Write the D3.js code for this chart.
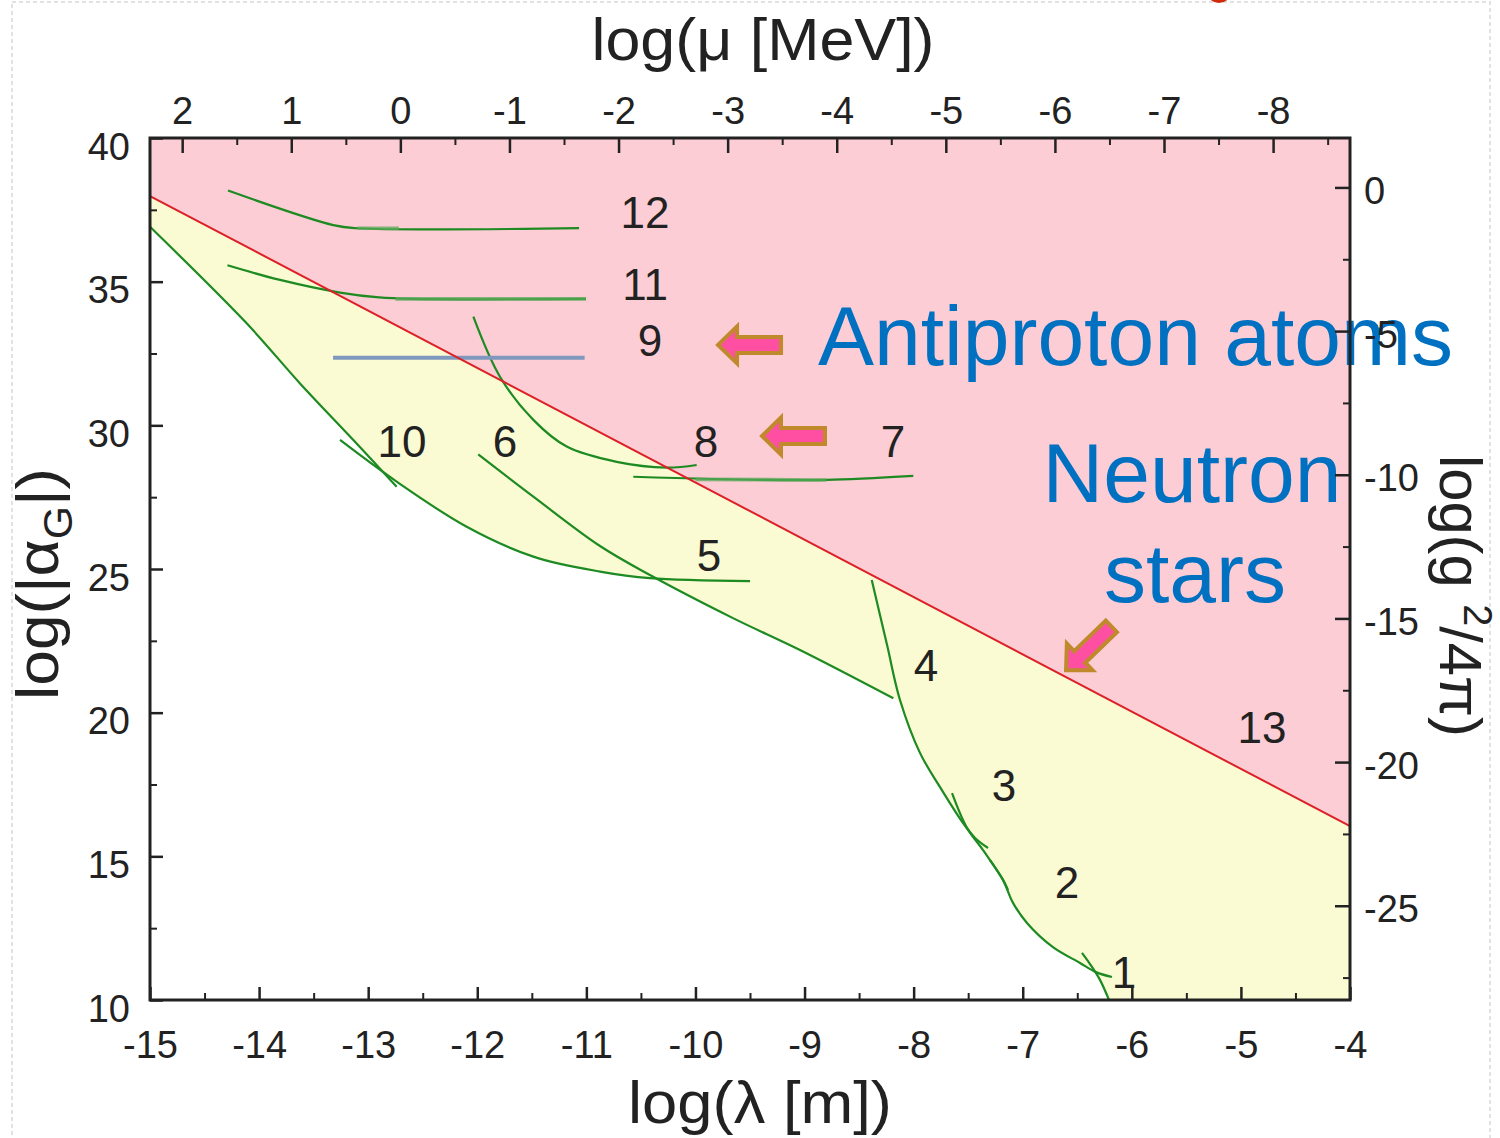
<!DOCTYPE html>
<html>
<head>
<meta charset="utf-8">
<script src="https://cdn.jsdelivr.net/npm/d3@7"></script>
<style>
  html, body { margin: 0; padding: 0; background: #fff; }
  svg { display: block; }
</style>
</head>
<body>
<svg id="chart" width="1500" height="1138"></svg>
<script>
// ---------------- tick values ----------------
const lambdaTicks = [-15, -14, -13, -12, -11, -10, -9, -8, -7, -6, -5, -4];
const alphaTicks  = [10, 15, 20, 25, 30, 35, 40];
const muTicks     = [2, 1, 0, -1, -2, -3, -4, -5, -6, -7, -8];
const couplingTicks = [0, -5, -10, -15, -20, -25];

// log10(hbar*c in MeV*m): lambda = LOG_HBARC - log(mu)
const LOG_HBARC = -12.705;
// log(alpha_G) = log(g^2/4pi) + ALPHA_SHIFT
const ALPHA_SHIFT = 38.28;

// ---------------- limits [log(lambda), log(alpha_G)] ----------------
const neutronStarLimit = [[-15, 37.98], [-4, 16.05]];

const excludedEdge = [
  [-15, 36.91], [-14.114, 33.55], [-13.625, 31.46], [-13.136, 29.49], [-12.84, 28.28],
  [-12.739, 28.04], [-12.097, 26.47], [-11.486, 25.43], [-10.875, 24.91], [-10.36, 24.67],
  [-9.656, 23.29], [-9.042, 22.18], [-8.15, 20.46], [-7.942, 18.60], [-7.758, 17.41],
  [-7.547, 16.16], [-7.364, 15.22], [-7.181, 14.18], [-7.089, 13.38], [-6.961, 12.68],
  [-6.723, 11.84], [-6.475, 11.29], [-6.383, 11.15], [-6.292, 10.70], [-6.209, 10.0]
];

const curve1  = [[-6.457, 11.64], [-6.383, 11.25], [-6.292, 10.70], [-6.209, 10.0]];
const curve2  = [[-7.300, 14.87], [-7.181, 14.18], [-7.089, 13.38], [-6.961, 12.68], [-6.723, 11.84],
                 [-6.475, 11.29], [-6.328, 10.97], [-6.182, 10.80]];
const curve3  = [[-7.648, 17.20], [-7.511, 15.99], [-7.364, 15.22], [-7.181, 14.18], [-7.135, 13.83]];
const curve4  = [[-8.384, 24.62], [-8.244, 22.36], [-8.125, 20.44], [-7.942, 18.60], [-7.758, 17.41],
                 [-7.547, 16.16], [-7.437, 15.64], [-7.318, 15.29]];
const curve5  = [[-13.258, 29.49], [-12.739, 28.04], [-12.097, 26.47], [-11.486, 25.43],
                 [-10.875, 24.91], [-10.417, 24.68], [-9.5, 24.58]];
const curve6  = [[-11.991, 28.99], [-11.486, 27.52], [-10.875, 25.80], [-10.417, 24.79],
                 [-9.656, 23.29], [-9.042, 22.18], [-8.186, 20.50]];
const curve7  = [[-10.57, 28.21], [-9.40, 28.10], [-8.797, 28.10], [-8.003, 28.24]];
const curve8  = [[-12.036, 33.78], [-11.792, 31.69], [-11.486, 30.19], [-11.18, 29.26],
                 [-10.722, 28.73], [-10.264, 28.53], [-9.989, 28.62]];
const curve9  = [[-13.322, 32.35], [-11.016, 32.35]];
const curve10 = [[-15, 36.91], [-14.114, 33.55], [-13.625, 31.46], [-13.136, 29.49], [-12.739, 27.86]];
const curve11 = [[-14.29, 35.57], [-13.808, 35.06], [-13.258, 34.62], [-12.90, 34.45],
                 [-12.598, 34.40], [-11.003, 34.40]];
const curve12 = [[-14.285, 38.17], [-13.32, 36.97], [-13.10, 36.86], [-11.067, 36.86]];

// lighter, wider stretches laid over some of the limits
const curve7Wide  = [[-10.0, 28.12], [-8.8, 28.10]];
const curve11Wide = [[-12.75, 34.40], [-11.003, 34.40]];
const curve12Wide = [[-13.10, 36.86], [-12.72, 36.86]];

// curve numbers: [text, log(lambda), log(alpha_G)] (centre of the number)
const curveNumbers = [
  ["12", -10.462, 37.42], ["11", -10.462, 34.92], ["9", -10.417, 32.97],
  ["10", -12.690, 29.45], ["6", -11.746, 29.45], ["8", -9.903, 29.45], ["7", -8.189, 29.45],
  ["5", -9.876, 25.49], ["4", -7.887, 21.66], ["3", -7.172, 17.48], ["2", -6.594, 14.11],
  ["1", -6.072, 10.97], ["13", -4.807, 19.50]
];

// callouts: [text, log(lambda), log(alpha_G), anchor]
const callouts = [
  ["Antiproton atoms", -8.877, 32.10, "start"],
  ["Neutron", -5.448, 27.33, "middle"],
  ["stars", -5.421, 23.86, "middle"]
];

// arrow tips [log(lambda), log(alpha_G), direction of tail in degrees]
const arrowTips = [
  [-9.793, 32.80, 0],
  [-9.390, 29.63, 0],
  [-6.603, 21.48, -44]
];

// ---------------- drawing ----------------
const svg = d3.select("#chart");
const SANS = "'Liberation Sans', Arial, Helvetica, sans-serif";
const NARROW = "'Liberation Sans Narrow', 'Arial Narrow', 'Liberation Sans', Arial, sans-serif";
const INK = "#222";

const x = d3.scaleLinear().domain([-15, -4]).range([150, 1350]);
const y = d3.scaleLinear().domain([10, 40]).range([1000, 138]);
const xMu = d3.scaleLinear().domain([LOG_HBARC + 15, LOG_HBARC + 4]).range([150, 1350]);
const yG = d3.scaleLinear().domain([10 - ALPHA_SHIFT, 40 - ALPHA_SHIFT]).range([1000, 138]);

// faint page frame and the corner dot
svg.append("rect").attr("x", 12).attr("y", 2).attr("width", 1478).attr("height", 1150)
  .attr("fill", "none").attr("stroke", "#e2e2e2").attr("stroke-width", 2).attr("stroke-dasharray", "4,3");
svg.append("circle").attr("cx", 1219).attr("cy", -10).attr("r", 13).attr("fill", "#d02a0c");

svg.append("clipPath").attr("id", "plot-clip").append("rect")
  .attr("x", x(-15)).attr("y", y(40)).attr("width", x(-4) - x(-15)).attr("height", y(10) - y(40));

const plot = svg.append("g").attr("clip-path", "url(#plot-clip)");

const area = d3.line().x(d => x(d[0])).y(d => y(d[1]));
const smooth = d3.line().x(d => x(d[0])).y(d => y(d[1])).curve(d3.curveCatmullRom.alpha(0.5));

// excluded by neutron stars (above the red limit)
const nsFirst = neutronStarLimit[0], nsLast = neutronStarLimit[neutronStarLimit.length - 1];
plot.append("path")
  .attr("d", area([[nsFirst[0], 40], [nsLast[0], 40], ...neutronStarLimit.slice().reverse()]) + "Z")
  .attr("fill", "#fdcdd6");

// excluded by the experiments, below the neutron-star limit
plot.append("path")
  .attr("d", area([...neutronStarLimit, [nsLast[0], 10], ...excludedEdge.slice().reverse()]) + "Z")
  .attr("fill", "#fafad3");

// experimental limits
const greenCurves = [curve1, curve2, curve3, curve4, curve5, curve6, curve7, curve8, curve10, curve11, curve12];
plot.selectAll("path.limit").data(greenCurves).join("path")
  .attr("class", "limit").attr("d", smooth)
  .attr("fill", "none").attr("stroke", "#1d8a22").attr("stroke-width", 2.2);

plot.selectAll("path.wide").data([curve7Wide, curve11Wide, curve12Wide]).join("path")
  .attr("class", "wide").attr("d", smooth)
  .attr("fill", "none").attr("stroke", "#5aa85a").attr("stroke-opacity", 0.75).attr("stroke-width", 3.6);

plot.append("path").attr("d", smooth(curve9))
  .attr("fill", "none").attr("stroke", "#7f98bd").attr("stroke-width", 4);

plot.append("path").attr("d", area(neutronStarLimit))
  .attr("fill", "none").attr("stroke", "#dd1f26").attr("stroke-width", 2);

// curve numbers
svg.append("g").selectAll("text").data(curveNumbers).join("text")
  .attr("x", d => x(d[1])).attr("y", d => y(d[2]) + 16)
  .attr("text-anchor", "middle")
  .attr("font-family", SANS).attr("font-size", 44).attr("fill", INK)
  .text(d => d[0]);

// callout texts
svg.append("g").selectAll("text").data(callouts).join("text")
  .attr("x", d => x(d[1])).attr("y", d => y(d[2]))
  .attr("text-anchor", d => d[3])
  .attr("font-family", SANS).attr("font-size", 84).attr("fill", "#0070c0")
  .text(d => d[0]);

// block arrows (tip at origin, tail along +x)
const arrowShape = [[0, 0], [19, -18.5], [19, -8], [63, -8], [63, 8], [19, 8], [19, 18.5]];
svg.append("g").selectAll("path").data(arrowTips).join("path")
  .attr("d", "M" + arrowShape.map(p => p.join(",")).join("L") + "Z")
  .attr("transform", d => `translate(${x(d[0])},${y(d[1])}) rotate(${d[2]})`)
  .attr("fill", "#ff4fa3").attr("stroke", "#c08a2c").attr("stroke-width", 4)
  .attr("stroke-linejoin", "miter");

// ---------------- axes ----------------
function styleAxis(g, size) {
  g.select(".domain").remove();
  g.selectAll(".tick line").attr("stroke", INK).attr("stroke-width", size);
  g.selectAll(".tick text").attr("font-family", NARROW).attr("font-size", 38).attr("fill", INK);
}
const fmt = d => String(d);

svg.append("g").attr("transform", `translate(0,${y(10)})`)
  .call(d3.axisBottom(x).tickValues(lambdaTicks).tickSize(-13).tickFormat(fmt))
  .call(g => styleAxis(g, 2.5))
  .call(g => g.selectAll(".tick text").attr("y", 58).attr("dy", null));
svg.append("g").attr("transform", `translate(0,${y(10)})`)
  .call(d3.axisBottom(x).tickValues(d3.range(-14.5, -4, 1)).tickSize(-7).tickFormat(""))
  .call(g => styleAxis(g, 2));

svg.append("g").attr("transform", `translate(${x(-15)},0)`)
  .call(d3.axisLeft(y).tickValues(alphaTicks).tickSize(-13).tickPadding(20).tickFormat(fmt))
  .call(g => styleAxis(g, 2.5))
  .call(g => g.selectAll(".tick text").attr("y", 21).attr("dy", null));
svg.append("g").attr("transform", `translate(${x(-15)},0)`)
  .call(d3.axisLeft(y).tickValues(d3.range(12.5, 40, 5)).tickSize(-7).tickFormat(""))
  .call(g => styleAxis(g, 2));

svg.append("g").attr("transform", `translate(0,${y(40)})`)
  .call(d3.axisTop(xMu).tickValues(muTicks).tickSize(-15).tickPadding(14).tickFormat(fmt))
  .call(g => styleAxis(g, 2.5));
svg.append("g").attr("transform", `translate(0,${y(40)})`)
  .call(d3.axisTop(xMu).tickValues(d3.range(1.5, -9, -1)).tickSize(-7).tickFormat(""))
  .call(g => styleAxis(g, 2));

svg.append("g").attr("transform", `translate(${x(-4)},0)`)
  .call(d3.axisRight(yG).tickValues(couplingTicks).tickSize(-15).tickPadding(14).tickFormat(fmt))
  .call(g => styleAxis(g, 2.5))
  .call(g => g.selectAll(".tick text").attr("y", 16).attr("dy", null));
svg.append("g").attr("transform", `translate(${x(-4)},0)`)
  .call(d3.axisRight(yG).tickValues(d3.range(-2.5, -28, -5)).tickSize(-7).tickFormat(""))
  .call(g => styleAxis(g, 2));

// plot frame
svg.append("rect")
  .attr("x", x(-15)).attr("y", y(40)).attr("width", x(-4) - x(-15)).attr("height", y(10) - y(40))
  .attr("fill", "none").attr("stroke", INK).attr("stroke-width", 3);

// ---------------- axis titles ----------------
function title(cx, cy, rot, targetLen, build) {
  const g = svg.append("g");
  const t = g.append("text").attr("text-anchor", "middle")
    .attr("font-family", SANS).attr("font-size", 60).attr("fill", INK);
  build(t);
  const len = t.node().getComputedTextLength();
  g.attr("transform", `translate(${cx},${cy}) rotate(${rot}) scale(${targetLen / len},1)`);
}

title(763, 60, 0, 343, t => t.text("log(μ [MeV])"));
title(760, 1123, 0, 264, t => t.text("log(λ [m])"));
title(58, 584, -90, 232, t => {
  t.append("tspan").text("log(|α");
  t.append("tspan").attr("font-size", 40).attr("dy", 14).text("G");
  t.append("tspan").attr("dy", -14).text("|)");
});
title(1440, 596, 90, 282, t => {
  t.append("tspan").text("log(g ");
  t.append("tspan").attr("font-size", 40).attr("dy", -24).text("2");
  t.append("tspan").attr("dy", 24).text("/4π)");
});
</script>
</body>
</html>
